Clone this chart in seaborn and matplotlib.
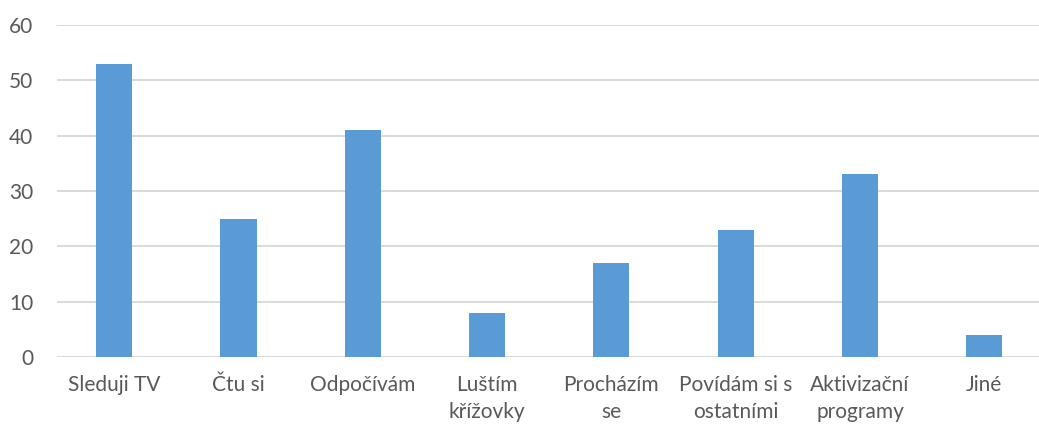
import matplotlib
matplotlib.use("Agg")
import matplotlib.pyplot as plt
import seaborn as sns
import pandas as pd

categories = ["Sleduji TV", "Čtu si", "Odpočívám", "Luštím\nkřížovky",
              "Procházím\nse", "Povídám si s\nostatními", "Aktivizační\nprogramy", "Jiné"]
values = [53, 25, 41, 8, 17, 23, 33, 4]
y_ticks = [0, 10, 20, 30, 40, 50, 60]

sns.set_theme(style="white")
plt.rcParams["font.family"] = ["Lato", "DejaVu Sans"]

df = pd.DataFrame({"activity": categories, "count": values})

fig = plt.figure(figsize=(10.39, 4.30), dpi=100)
ax = fig.add_axes([57 / 1039, 73 / 430, 1 - 57 / 1039, (357 - 25) / 430])

sns.barplot(data=df, x="activity", y="count", color="#5B9BD5", saturation=1,
            width=0.29, linewidth=0, ax=ax, zorder=3)

ax.set_ylim(0, 60)
ax.set_xlim(-0.46, 7.44)
ax.set_yticks(y_ticks)
ax.yaxis.grid(True, color="#D9D9D9", linewidth=1.4, zorder=0)
ax.set_axisbelow(True)
for s in ax.spines.values():
    s.set_visible(False)
ax.set_xlabel("")
ax.set_ylabel("")
ax.tick_params(axis="both", length=0, colors="#595959", labelsize=15)
ax.tick_params(axis="x", pad=13)
ax.tick_params(axis="y", pad=17)
for lbl in ax.get_xticklabels():
    lbl.set_linespacing(1.45)

fig.savefig("out.png", dpi=100)
